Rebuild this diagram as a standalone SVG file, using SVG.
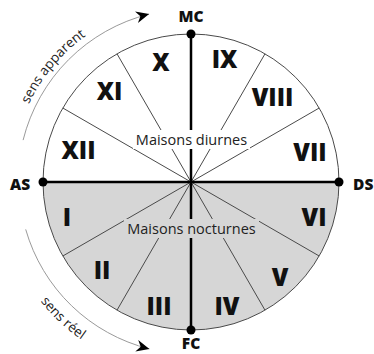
<svg xmlns="http://www.w3.org/2000/svg" width="374" height="354" viewBox="0 0 374 354">
<style>
.num{font-family:"Open Sans","Liberation Sans",sans-serif;font-weight:800;font-size:24px;fill:#111;text-anchor:middle}
.ax{font-family:"Open Sans","Liberation Sans",sans-serif;font-weight:800;font-size:15.5px;fill:#111}
.lbl{font-family:"Open Sans","Liberation Sans",sans-serif;font-size:14.5px;fill:#222;text-anchor:middle}
.sens{font-family:"Open Sans","Liberation Sans",sans-serif;font-size:13.5px;fill:#222;text-anchor:middle}
.div{stroke:#4a4a4a;stroke-width:1;fill:none}
.axis{stroke:#000;stroke-width:2.5;fill:none}
.arc{stroke:#9a9a9a;stroke-width:1;fill:none}
</style>
<defs>
<marker id="ah" markerUnits="userSpaceOnUse" markerWidth="16" markerHeight="14" refX="13" refY="7" orient="auto" viewBox="0 0 16 14">
<path d="M13,7 L0,1 L4,7 L0,13 Z" fill="#000"/>
</marker>
<path id="tp1" d="M11,182 A180,180 0 0 1 191,2"/>
<path id="tp2" d="M-1,182 A192,192 0 0 0 191,374"/>
</defs>
<rect width="374" height="354" fill="#fff"/>
<g id="wheel">
<path d="M43,182 A148,148 0 0 0 339,182 Z" fill="#d6d6d6"/>
<circle cx="191" cy="182" r="148" fill="none" stroke="#4a4a4a" stroke-width="1"/>
</g>
<g id="connectors">
<line class="div" x1="191" y1="182" x2="62.8" y2="108"/>
<line class="div" x1="191" y1="182" x2="117" y2="53.8"/>
<line class="div" x1="191" y1="182" x2="265" y2="53.8"/>
<line class="div" x1="191" y1="182" x2="319.2" y2="108"/>
<line class="div" x1="191" y1="182" x2="319.2" y2="256"/>
<line class="div" x1="191" y1="182" x2="265" y2="310.2"/>
<line class="div" x1="191" y1="182" x2="117" y2="310.2"/>
<line class="div" x1="191" y1="182" x2="62.8" y2="256"/>
<line class="axis" x1="43" y1="182" x2="339" y2="182"/>
<line class="axis" x1="191" y1="34" x2="191" y2="330"/>
<path class="arc" d="M23.1,140.1 A173,173 0 0 1 149.1,14.1" marker-end="url(#ah)"/>
<path class="arc" d="M25.7,229.4 A172,172 0 0 0 149.4,348.9" marker-end="url(#ah)"/>
</g>
<g id="MC"><circle cx="191" cy="34" r="4.5"/><text class="ax" x="191" y="22" text-anchor="middle">MC</text></g>
<g id="FC"><circle cx="191" cy="330" r="4.5"/><text class="ax" x="191" y="349" text-anchor="middle">FC</text></g>
<g id="AS"><circle cx="43" cy="182" r="4.5"/><text class="ax" x="20" y="190" text-anchor="middle">AS</text></g>
<g id="DS"><circle cx="339" cy="182" r="4.5"/><text class="ax" x="353" y="190">DS</text></g>
<g id="maisons-diurnes"><rect x="133" y="130" width="117" height="19" fill="#fff"/><text class="lbl" x="191.5" y="145">Maisons diurnes</text></g>
<g id="maisons-nocturnes"><rect x="124" y="219" width="135" height="19" fill="#d6d6d6"/><text class="lbl" x="191.5" y="234">Maisons nocturnes</text></g>
<g id="h10"><text class="num" x="161" y="71">X</text></g>
<g id="h9"><text class="num" x="224.5" y="68">IX</text></g>
<g id="h11"><text class="num" x="109.5" y="100">XI</text></g>
<g id="h8"><text class="num" x="272.5" y="106">VIII</text></g>
<g id="h12"><text class="num" x="78.5" y="159">XII</text></g>
<g id="h7"><text class="num" x="310" y="161">VII</text></g>
<g id="h1"><text class="num" x="67" y="226">I</text></g>
<g id="h2"><text class="num" x="102" y="279">II</text></g>
<g id="h3"><text class="num" x="159" y="315">III</text></g>
<g id="h4"><text class="num" x="227" y="315">IV</text></g>
<g id="h5"><text class="num" x="280" y="286">V</text></g>
<g id="h6"><text class="num" x="314" y="226">VI</text></g>
<g id="sens-apparent"><text class="sens"><textPath href="#tp1" startOffset="44.4%">sens apparent</textPath></text></g>
<g id="sens-reel"><text class="sens"><textPath href="#tp2" startOffset="52%">sens réel</textPath></text></g>
</svg>
